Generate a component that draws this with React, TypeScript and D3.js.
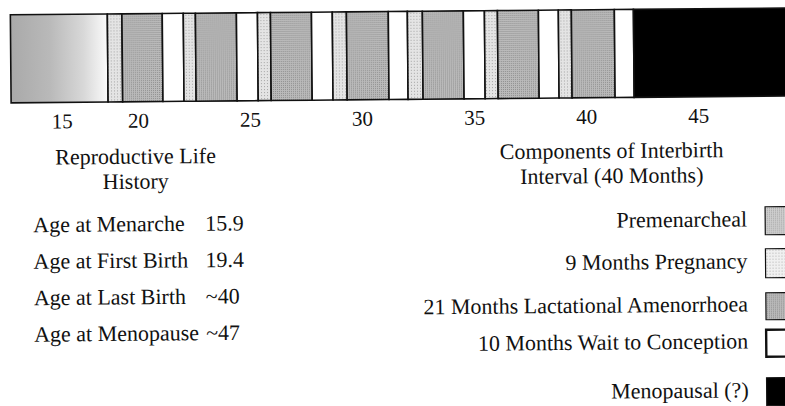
import React from "react";
import * as d3 from "d3";

// ---- data ----
const ageTicks = [15, 20, 25, 30, 35, 40, 45];
// schematic age axis anchors (the printed axis is compressed before first conception)
const axisAnchorAges = [11, 15, 18.65, 49];

const segmentKinds = [
  "pre",
  "preg", "lact", "wait",
  "preg", "lact", "wait",
  "preg", "lact", "wait",
  "preg", "lact", "wait",
  "preg", "lact", "wait",
  "preg", "lact", "wait",
  "preg", "lact", "wait",
  "meno",
];
const segmentEnds = [
  18.65,
  19.3, 21.1, 22.04,
  22.58, 24.41, 25.35,
  25.93, 27.76, 28.69,
  29.32, 31.19, 32.04,
  32.71, 34.54, 35.48,
  36.06, 37.89, 38.78,
  39.36, 41.28, 42.13,
  49,
];

const historyTitle = ["Reproductive Life", "History"];
const historyLabels = ["Age at Menarche", "Age at First Birth", "Age at Last Birth", "Age at Menopause"];
const historyValues = ["15.9", "19.4", "~40", "~47"];

const legendTitle = ["Components of Interbirth", "Interval (40 Months)"];
const legendLabels = [
  "Premenarcheal",
  "9 Months Pregnancy",
  "21 Months Lactational Amenorrhoea",
  "10 Months Wait to Conception",
  "Menopausal (?)",
];
const legendKinds = ["pre", "preg", "lact", "wait", "meno"];

// ---- styles ----
const W = 785;
const H = 406;
const FONT = "'Liberation Serif', 'Times New Roman', serif";
const barFill: Record<string, string> = {
  pre: "url(#preGrad)",
  preg: "url(#pregPat)",
  lact: "url(#lactPat)",
  wait: "#ffffff",
  meno: "#000000",
};
const legendFill: Record<string, string> = {
  pre: "url(#preLegPat)",
  preg: "url(#pregLegPat)",
  lact: "url(#lactPat)",
  wait: "#ffffff",
  meno: "#000000",
};

export default function App() {
  const x = d3.scaleLinear().domain(axisAnchorAges).range([12, 63, 109, 789]);
  const barTop = 11.5;
  const barH = 88;

  const segStarts = segmentEnds.map((e, i) => (i === 0 ? axisAnchorAges[0] : segmentEnds[i - 1]));

  const histLineY = d3.scaleLinear().domain([0, 1]).range([229, 265.5]);
  const legY = [229.5, 271.5, 314.5, 351.5, 400.5];
  const legBoxY = [210, 252, 296, 333, 381];
  const legBoxH = [28, 29, 27, 27, 28];

  return (
    <svg
      width={W}
      height={H}
      style={{ position: "absolute", left: 0, top: 0, background: "#fff" }}
      fontFamily={FONT}
    >
      <defs>
        <linearGradient id="preGrad" x1="0" x2="1" y1="0" y2="0">
          <stop offset="0%" stopColor="#a9a9a9" />
          <stop offset="40%" stopColor="#b9b9b9" />
          <stop offset="75%" stopColor="#d8d8d8" />
          <stop offset="100%" stopColor="#fbfbfb" />
        </linearGradient>
        <pattern id="pregPat" width="3" height="3" patternUnits="userSpaceOnUse">
          <rect width="3" height="3" fill="#e4e4e4" />
          <rect x="1" y="1" width="1" height="1" fill="#a4a4a4" />
        </pattern>
        <pattern id="lactPat" width="2" height="2" patternUnits="userSpaceOnUse">
          <rect width="2" height="2" fill="#bababa" />
          <rect x="0" y="0" width="1" height="1" fill="#909090" />
        </pattern>
        <pattern id="preLegPat" width="2" height="2" patternUnits="userSpaceOnUse">
          <rect width="2" height="2" fill="#cfcfcf" />
          <rect x="1" y="1" width="1" height="1" fill="#a0a0a0" />
        </pattern>
        <pattern id="pregLegPat" width="3" height="3" patternUnits="userSpaceOnUse">
          <rect width="3" height="3" fill="#f0f0f0" />
          <rect x="1" y="1" width="1" height="1" fill="#b0b0b0" />
        </pattern>
      </defs>
      <g transform={`rotate(-0.5, 392, 203)`}>
        {/* bar segments */}
        {segmentKinds.map((k, i) => (
          <rect
            key={i}
            x={x(segStarts[i])}
            y={barTop}
            width={x(segmentEnds[i]) - x(segStarts[i])}
            height={barH}
            fill={barFill[k]}
            stroke="#111"
            strokeWidth={1.6}
          />
        ))}
        {/* age ticks */}
        {ageTicks.map((t) => (
          <text key={t} x={x(t)} y={125.5} fontSize={21} textAnchor="middle" fill="#111">
            {t}
          </text>
        ))}

        {/* left block */}
        {historyTitle.map((s, i) => (
          <text key={s} x={136} y={161.5 + i * 25} fontSize={22} textAnchor="middle" fill="#111">
            {s}
          </text>
        ))}
        {historyLabels.map((s, i) => (
          <g key={s}>
            <text x={33} y={histLineY(i)} fontSize={22} fill="#111">
              {s}
            </text>
            <text x={205} y={histLineY(i)} fontSize={22} fill="#111">
              {historyValues[i]}
            </text>
          </g>
        ))}

        {/* right block */}
        {legendTitle.map((s, i) => (
          <text key={s} x={612} y={160 + i * 25} fontSize={22} textAnchor="middle" fill="#111">
            {s}
          </text>
        ))}
        {legendLabels.map((s, i) => (
          <g key={s}>
            <text x={747} y={legY[i]} fontSize={22} textAnchor="end" fill="#111">
              {s}
            </text>
            <rect
              x={765}
              y={legBoxY[i]}
              width={30}
              height={legBoxH[i]}
              fill={legendFill[legendKinds[i]]}
              stroke="#111"
              strokeWidth={legendKinds[i] === "wait" ? 2.4 : 1.2}
            />
          </g>
        ))}
      </g>
    </svg>
  );
}
